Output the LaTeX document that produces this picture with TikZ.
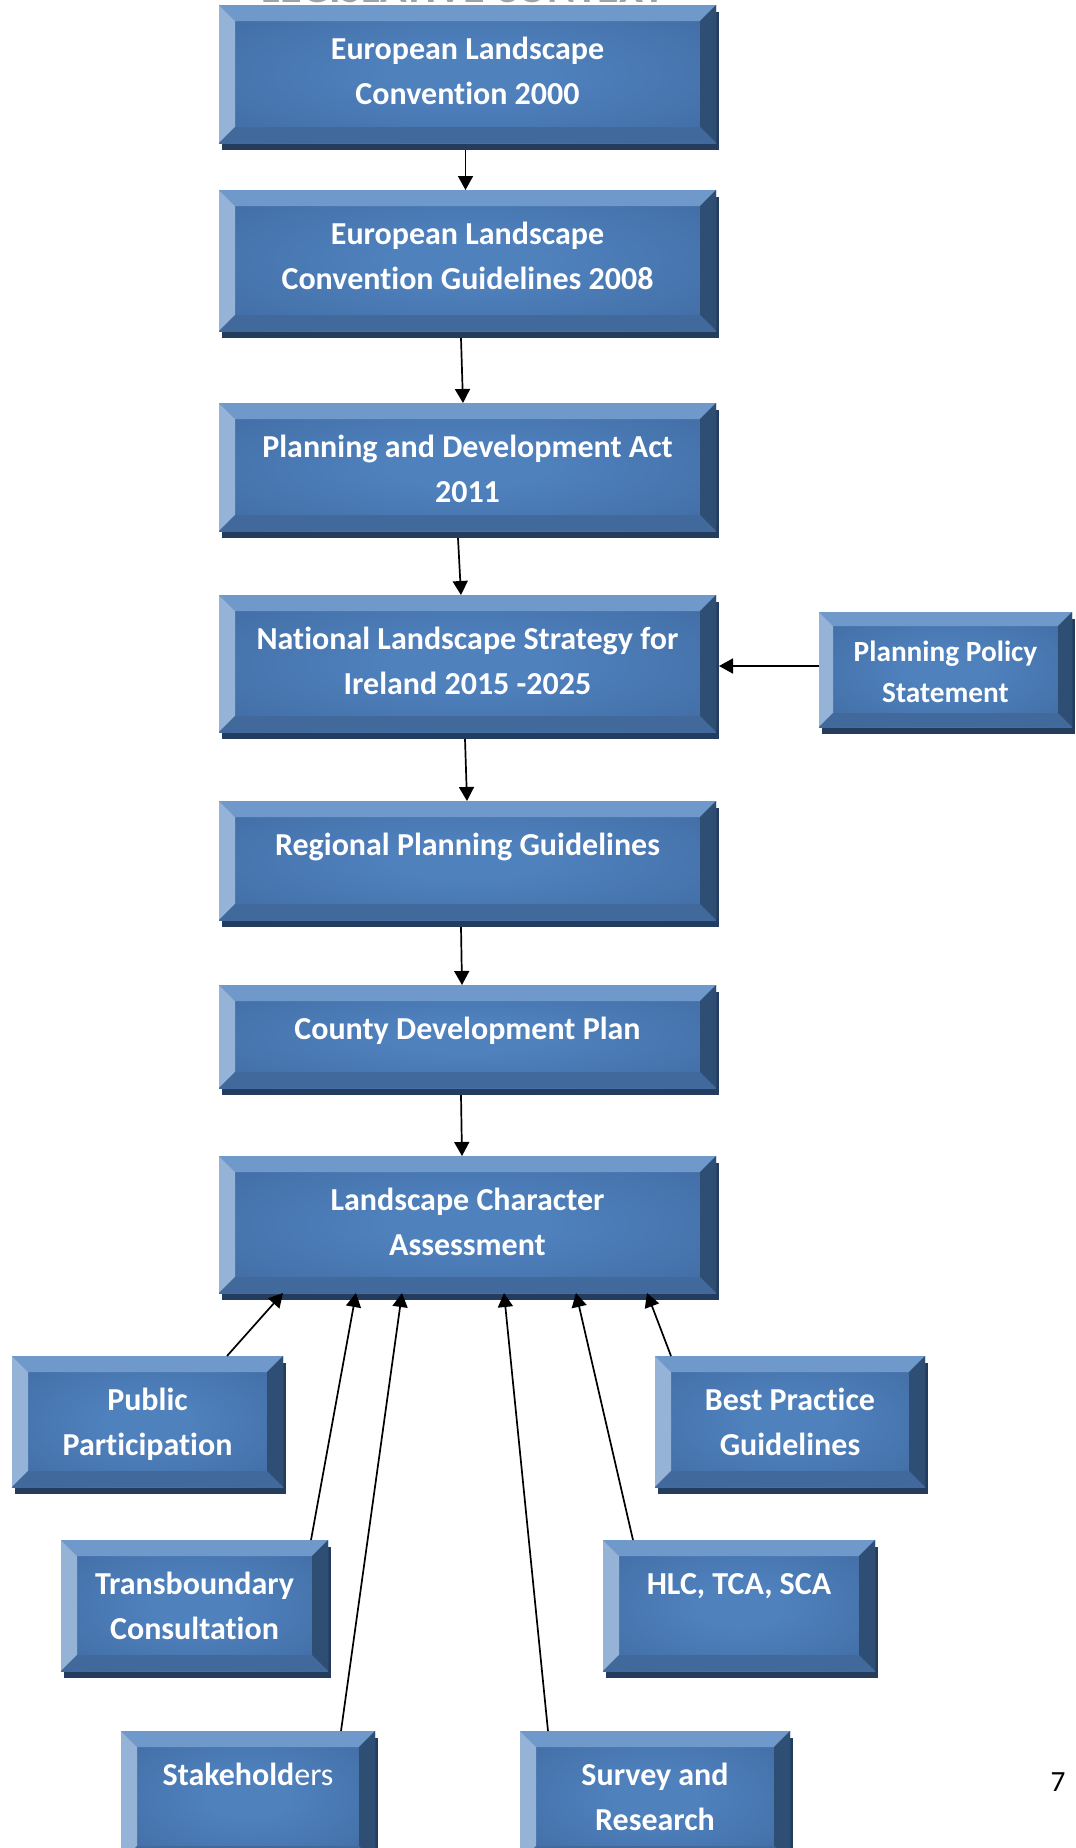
\documentclass[tikz,border=0pt]{standalone}
\usepackage{fontspec}
\setmainfont{Carlito}[Ligatures=NoCommon]
\usetikzlibrary{arrows.meta,shadows,calc}

% palette of the bevelled boxes
\definecolor{bevtop}{HTML}{7099CB}
\definecolor{bevleft}{HTML}{95B3D7}
\definecolor{bevright}{HTML}{2F4E74}
\definecolor{bevbottom}{HTML}{41699C}
\definecolor{facehi}{HTML}{4F81BD}
\definecolor{facelo}{HTML}{385F93}
\definecolor{boxshadow}{HTML}{243D5E}
\definecolor{titlegray}{HTML}{9AA4AA}

\pgfdeclareradialshading{facegrad}{\pgfpoint{0bp}{0bp}}{%
  color(0bp)=(facehi); color(8bp)=(facehi); color(50bp)=(facelo)}

% box text: fixed-size top-aligned block (width, height, lines)
\newcommand{\bxtext}[3]{\parbox[c][#2pt][t]{#1pt}{\centering
  \fontsize{32}{45}\selectfont\bfseries\vspace*{30pt}\rule{0pt}{24pt}#3}}
\newcommand{\bxsmall}[3]{\parbox[c][#2pt][t]{#1pt}{\centering
  \fontsize{29.3}{41.25}\selectfont\bfseries\vspace*{27pt}\rule{0pt}{22pt}#3}}

\newcommand{\bevw}{16pt}
\tikzset{
  bevelsize/.store in=\bevw,
  bevelbox/.style={rectangle, inner sep=0pt, outer sep=0pt, text=white,
    bevelsize=16pt,
    general shadow={fill=boxshadow, shadow xshift=3pt, shadow yshift=-7pt},
    shade, shading=facegrad,
    path picture={
      \fill[bevtop] (path picture bounding box.north west)
        -- (path picture bounding box.north east)
        -- ([shift={(-\bevw,-\bevw)}]path picture bounding box.north east)
        -- ([shift={(\bevw,-\bevw)}]path picture bounding box.north west) -- cycle;
      \fill[bevleft] (path picture bounding box.north west)
        -- ([shift={(\bevw,-\bevw)}]path picture bounding box.north west)
        -- ([shift={(\bevw,\bevw)}]path picture bounding box.south west)
        -- (path picture bounding box.south west) -- cycle;
      \fill[bevright] (path picture bounding box.north east)
        -- ([shift={(-\bevw,-\bevw)}]path picture bounding box.north east)
        -- ([shift={(-\bevw,\bevw)}]path picture bounding box.south east)
        -- (path picture bounding box.south east) -- cycle;
      \fill[bevbottom] (path picture bounding box.south west)
        -- ([shift={(\bevw,\bevw)}]path picture bounding box.south west)
        -- ([shift={(-\bevw,\bevw)}]path picture bounding box.south east)
        -- (path picture bounding box.south east) -- cycle;
    }},
  conn/.style={line width=1.7pt, draw=black,
    -{Triangle[length=14pt,width=15pt]}}
}

\begin{document}
\begin{tikzpicture}[x=1pt,y=-1pt]
\useasboundingbox (0,0) rectangle (1076,1848);

% heading, mostly above the page edge
\node[anchor=base, text=titlegray, font=\fontsize{44}{50}\selectfont\bfseries]
  (title) at (463.5,2) {LEGISLATIVE CONTEXT};

% main chain
\node[bevelbox] (b1) at (467.5,74)   {\bxtext{497}{138}{European Landscape\\Convention 2000}};
\node[bevelbox] (b2) at (467.5,260.5){\bxtext{497}{141}{European Landscape\\Convention Guidelines 2008}};
\node[bevelbox] (b3) at (467.5,467)  {\bxtext{497}{128}{Planning and Development Act\\2011}};
\node[bevelbox] (b4) at (467.5,663.5){\bxtext{497}{137}{National Landscape Strategy for\\Ireland 2015 -2025}};
\node[bevelbox] (b5) at (467.5,860.5){\bxtext{497}{119}{Regional Planning Guidelines}};
\node[bevelbox] (b6) at (467.5,1036.5){\bxtext{497}{103}{County Development Plan}};
\node[bevelbox] (b7) at (467.5,1224.5){\bxtext{497}{137}{Landscape Character\\Assessment}};

\node[bevelbox, bevelsize=14pt] (pps) at (945.5,669.5)
  {\bxsmall{253}{115}{Planning Policy\\Statement}};

% inputs to the character assessment
\node[bevelbox] (pp)  at (147.5,1421.5){\bxtext{271}{131}{Public\\Participation}};
\node[bevelbox] (bp)  at (790,1421.5)  {\bxtext{270}{131}{Best Practice\\Guidelines}};
\node[bevelbox] (tc)  at (194.5,1605.5){\bxtext{267}{131}{Transboundary\\Consultation}};
\node[bevelbox] (hlc) at (739,1605.5)  {\bxtext{272}{131}{HLC, TCA, SCA}};
\node[bevelbox] (sh)  at (248,1796.5)  {\bxtext{254}{131}{Stakehold{\mdseries ers}}};
\node[bevelbox] (sr)  at (655,1796.5)  {\bxtext{270}{131}{Survey and\\Research}};

% page number
\node[font=\fontsize{29.3}{35}\selectfont] (pg) at (1058,1782) {7};

% connectors
\draw[conn] ([shift={(-2pt,-7pt)}]b1.south) -- ([xshift=-2pt]b2.north);
\draw[conn] ([shift={(-6.5pt,-7pt)}]b2.south) -- ([xshift=-4.5pt]b3.north);
\draw[conn] ([shift={(-9.5pt,-7pt)}]b3.south) -- ([xshift=-6.5pt]b4.north);
\draw[conn] ([shift={(-2.5pt,-7pt)}]b4.south) -- ([xshift=-0.5pt]b5.north);
\draw[conn] ([shift={(-6.5pt,-7pt)}]b5.south) -- ([xshift=-5.5pt]b6.north);
\draw[conn] ([shift={(-6.5pt,-7pt)}]b6.south) -- ([xshift=-5.5pt]b7.north);
\draw[conn] ([yshift=3.5pt]pps.west) -- ($(pps.west -| b4.east)+(3pt,3.5pt)$);

\draw[conn] ([xshift=79.5pt]pp.north)   -- ([xshift=-184.5pt]b7.south);
\draw[conn] ([xshift=116.5pt]tc.north)  -- ([xshift=-111.5pt]b7.south);
\draw[conn] ([xshift=93pt]sh.north)     -- ([xshift=-65.5pt]b7.south);
\draw[conn] ([xshift=-107pt]sr.north)   -- ([xshift=36.5pt]b7.south);
\draw[conn] ([xshift=-106pt]hlc.north)  -- ([xshift=108.5pt]b7.south);
\draw[conn] ([xshift=-119pt]bp.north)   -- ([xshift=179.5pt]b7.south);
\end{tikzpicture}
\end{document}
